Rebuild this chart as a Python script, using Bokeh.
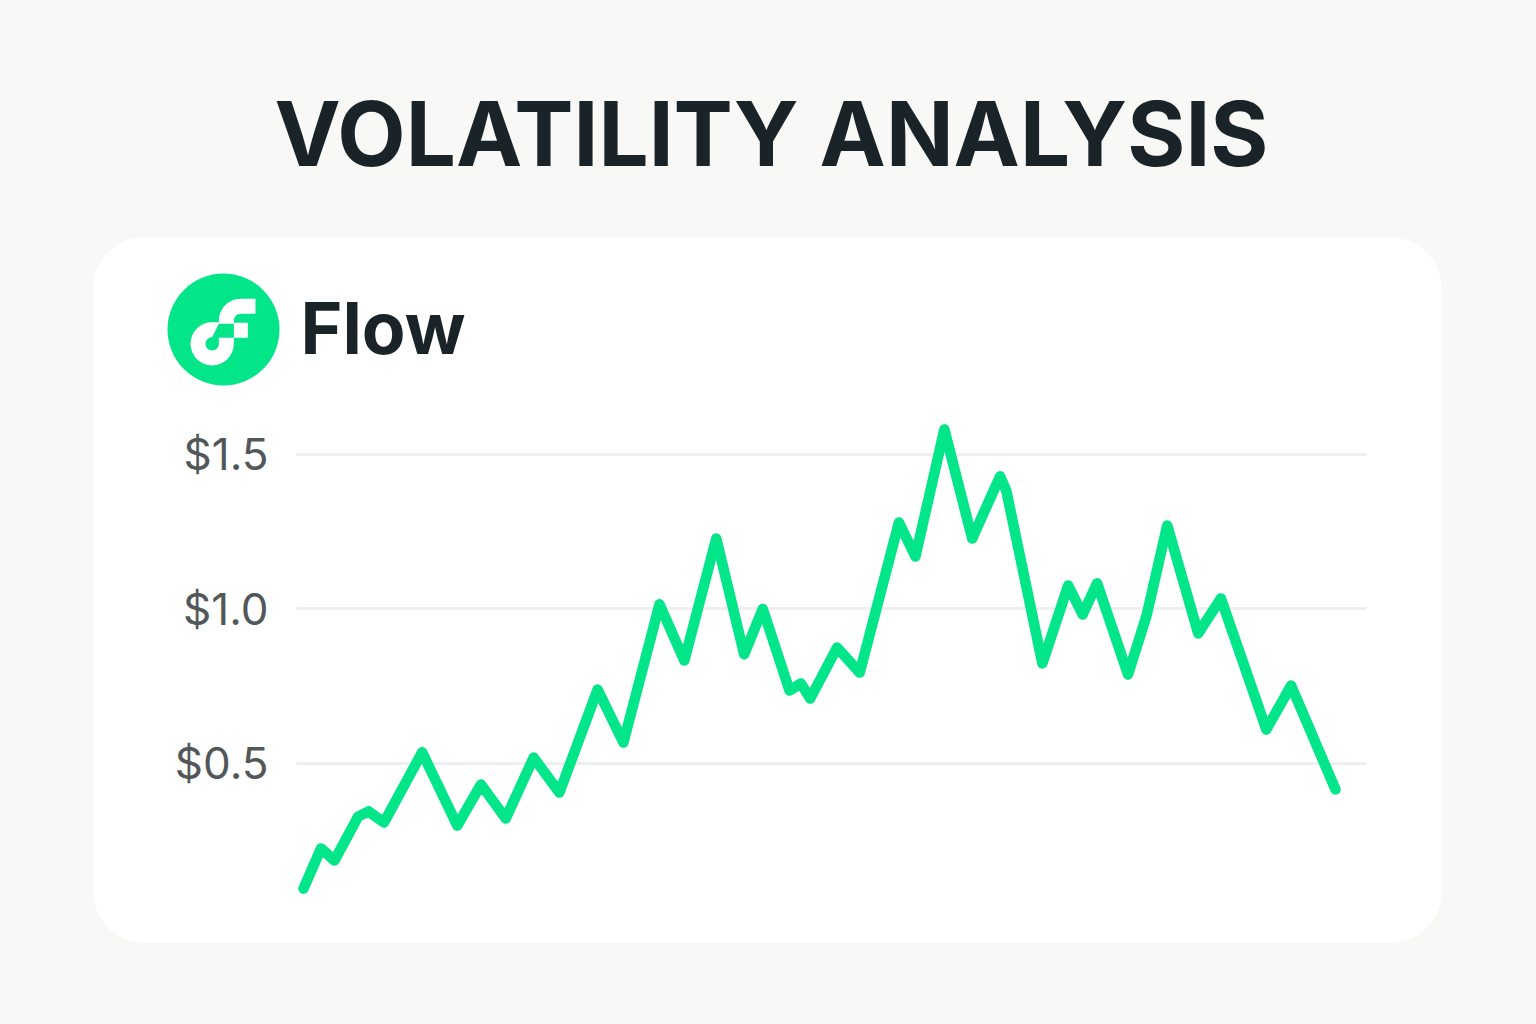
import math
from bokeh.plotting import figure
from bokeh.models import (BoxAnnotation, PolyAnnotation, Label, Range1d, FixedTicker,
                          PrintfTickFormatter)
from bokeh.embed import file_html
from bokeh.resources import INLINE

# ---- data ----
periods = [0.0, 1.7, 3.0, 5.3, 6.3, 7.8, 11.5, 14.9, 17.2, 19.6, 22.3, 24.8, 28.5, 31.0,
           34.5, 36.9, 40.0, 42.7, 44.5, 47.1, 48.2, 49.1, 51.7, 53.9, 57.7, 59.3, 62.1,
           64.8, 67.5, 68.1, 71.6, 74.1, 75.5, 76.9, 79.9, 81.7, 83.7, 86.7, 88.9, 93.3,
           95.7, 100.0]
prices = [0.095, 0.225, 0.186, 0.328, 0.345, 0.309, 0.536, 0.299, 0.432, 0.322, 0.519, 0.406,
          0.739, 0.568, 1.015, 0.833, 1.228, 0.853, 1.000, 0.736, 0.759, 0.710, 0.875, 0.794,
          1.280, 1.170, 1.581, 1.228, 1.429, 1.383, 0.824, 1.076, 0.982, 1.083, 0.788, 0.979,
          1.270, 0.921, 1.034, 0.610, 0.752, 0.416]
tick_values = [0.5, 1.0, 1.5]
title_text = "VOLATILITY ANALYSIS"
brand_text = "Flow"

BG = "#F8F8F6"
GREEN = "#02E588"
DARK = "#1A2328"
W, H = 1536, 1024

p = figure(width=W, height=H, output_backend="svg", toolbar_location=None,
           x_range=Range1d(-29.36, 119.48), y_range=Range1d(-0.3447, 2.969),
           x_axis_location=None, min_border=0,
           background_fill_color=BG, border_fill_color=BG, outline_line_color=None)

def box(l, r, t, b, color, radius, **kw):
    return BoxAnnotation(left=l, right=r, top=H-t, bottom=H-b,
                         left_units="screen", right_units="screen", top_units="screen",
                         bottom_units="screen", fill_color=color, fill_alpha=1,
                         line_color=None, border_radius=radius, **kw)

# card
p.add_layout(box(93, 1441, 237, 942, "white", 50, level="image"))

# axis and grid
ax = p.yaxis[0]
ax.fixed_location = -0.68
ax.ticker = FixedTicker(ticks=tick_values)
ax.formatter = PrintfTickFormatter(format="$%.1f")
ax.axis_line_color = None
ax.major_tick_line_color = None
ax.minor_tick_line_color = None
ax.major_tick_out = 0
ax.major_tick_in = 0
ax.major_label_standoff = 28
ax.major_label_text_font = "Inter"
ax.major_label_text_font_size = "44px"
ax.major_label_text_color = "#52575A"
p.xgrid.visible = False
p.ygrid.ticker = FixedTicker(ticks=tick_values)
p.ygrid.cross_bounds = (-0.68, 103.0)
p.ygrid.grid_line_color = "#EEEFF0"
p.ygrid.grid_line_width = 3

p.line(periods, prices, line_color=GREEN, line_width=10.5, line_join="round", line_cap="round")

# logo
p.add_layout(box(167, 279, 273, 385, GREEN, 56))

def arc(cx, cy, r, a0, a1, n=24):
    return [(cx + r*math.cos(math.radians(a0 + (a1-a0)*i/n)),
             cy + r*math.sin(math.radians(a0 + (a1-a0)*i/n))) for i in range(n+1)]

def tx(pts):
    return [150 + a/3 for a, _ in pts], [H - (260 + b/3) for _, b in pts]

white_shape = ([(315,115),(315,160),(270,160)] + arc(270,180,20,270,180) +
               [(250,187),(292,187),(292,232),(250,232)] + arc(185,250,65,0,270) +
               [(205,185)] + arc(270,180,65,180,270))
green_shape = ([(205,190),(250,190),(250,232),(205,232)] + arc(185,250,20,0,270))
for shape, col in ((white_shape, "white"), (green_shape, GREEN)):
    xs, ys = tx(shape)
    p.add_layout(PolyAnnotation(xs=xs, ys=ys, xs_units="screen", ys_units="screen",
                                fill_color=col, fill_alpha=1, line_color=None))

# texts
p.add_layout(Label(x=771, y=H-133, x_units="screen", y_units="screen", text=title_text,
                   text_font="Inter", text_font_style="bold", text_font_size="88.8px",
                   text_color=DARK, text_align="center", text_baseline="middle"))
p.add_layout(Label(x=300, y=H-327, x_units="screen", y_units="screen", text=brand_text,
                   text_font="Inter", text_font_style="bold", text_font_size="71.5px",
                   text_color=DARK, text_align="left", text_baseline="middle"))

open("out.html", "w").write(file_html(p, INLINE))
